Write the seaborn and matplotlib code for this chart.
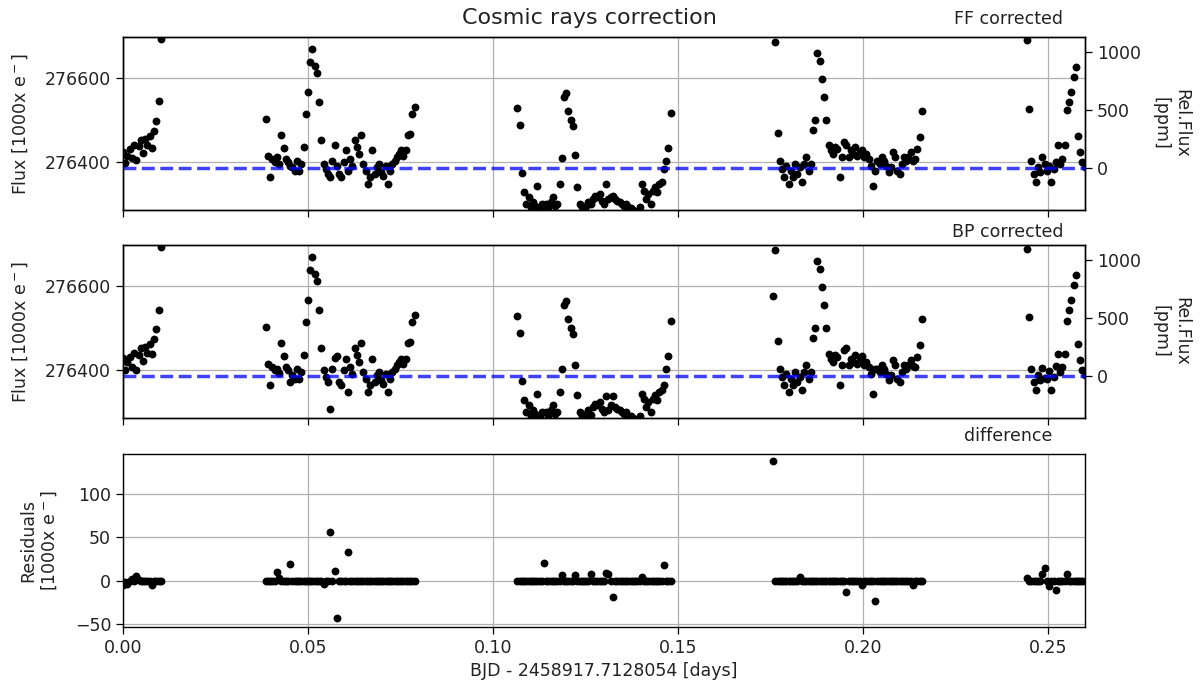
import numpy as np
import pandas as pd
import matplotlib
matplotlib.use("Agg")
import matplotlib.pyplot as plt
from matplotlib.ticker import FormatStrFormatter
import seaborn as sns

# ---------------- data ----------------
MEDIAN_FLUX = 276385.7          # level of the dashed line [1000 e-]
FLUX_LIM = (276286.0, 276699.0)
RES_LIM = (-53.4, 145.6)
X_LIM = (0.0, 0.26)

time_seg1 = [0.0000, 0.0006, 0.0012, 0.0018, 0.0024, 0.0030, 0.0036, 0.0042, 0.0048,
             0.0054, 0.0060, 0.0066, 0.0072, 0.0078, 0.0084, 0.0090, 0.0096, 0.0102]
ff_seg1 = [276425, 276398, 276415, 276432, 276410, 276440, 276405, 276438, 276452,
           276422, 276455, 276440, 276462, 276433, 276475, 276498, 276545, 276695]
res_seg1 = [-5, -2, -4, 0, 2, -1, 5, 1, 0, 0, 0, -1, 0, -5, 0, 0, 0, 0]

time_seg2 = [0.0386, 0.0392, 0.0398, 0.0404, 0.0410, 0.0416, 0.0422, 0.0428, 0.0434, 0.0440,
             0.0446, 0.0452, 0.0458, 0.0464, 0.0470, 0.0476, 0.0482, 0.0488, 0.0494, 0.0500,
             0.0506, 0.0512, 0.0518, 0.0524, 0.0530, 0.0536, 0.0542, 0.0548, 0.0554, 0.0560,
             0.0566, 0.0572, 0.0578, 0.0584, 0.0590, 0.0596, 0.0602, 0.0608, 0.0614, 0.0620,
             0.0626, 0.0632, 0.0638, 0.0644, 0.0650, 0.0656, 0.0662, 0.0668, 0.0674, 0.0680,
             0.0686, 0.0692, 0.0698, 0.0704, 0.0710, 0.0716, 0.0722, 0.0728, 0.0734, 0.0740,
             0.0746, 0.0752, 0.0758, 0.0764, 0.0770, 0.0776, 0.0782, 0.0788]
ff_seg2 = [276504, 276414, 276364, 276408, 276400, 276412, 276396, 276464, 276434, 276408,
           276400, 276392, 276388, 276378, 276402, 276380, 276396, 276436, 276516, 276568,
           276640, 276670, 276630, 276612, 276544, 276452, 276396, 276384, 276372, 276364,
           276404, 276440, 276392, 276372, 276364, 276400, 276428, 276380, 276408, 276392,
           276452, 276436, 276420, 276464, 276396, 276380, 276348, 276364, 276428, 276372,
           276388, 276396, 276376, 276368, 276392, 276348, 276380, 276396, 276404, 276412,
           276420, 276428, 276416, 276428, 276464, 276468, 276516, 276532]
res_seg2 = [0, 0, 0, 0, 0, 10, 3, 0, 0, 0,
            0, 19, 0, 0, 0, 0, 0, 0, 0, 0,
            0, 0, 0, 0, 0, 0, -4, 0, 0, 56,
            0, 11, -43, 0, 0, 0, 0, 33, 0, 0,
            0, 0, 0, 0, 0, 0, 0, 0, 0, 0,
            0, 0, 0, 0, 0, 0, 0, 0, 0, 0,
            0, 0, 0, 0, 0, 0, 0, 0]

time_seg3 = [0.1066, 0.1072, 0.1078, 0.1084, 0.1090, 0.1096, 0.1102, 0.1108, 0.1114, 0.1120,
             0.1126, 0.1132, 0.1138, 0.1144, 0.1150, 0.1156, 0.1162, 0.1168, 0.1174, 0.1180,
             0.1186, 0.1192, 0.1198, 0.1204, 0.1210, 0.1216, 0.1222, 0.1228, 0.1234, 0.1240,
             0.1246, 0.1252, 0.1258, 0.1264, 0.1270, 0.1276, 0.1282, 0.1288, 0.1294, 0.1300,
             0.1306, 0.1312, 0.1318, 0.1324, 0.1330, 0.1336, 0.1342, 0.1348, 0.1354, 0.1360,
             0.1366, 0.1372, 0.1378, 0.1384, 0.1390, 0.1396, 0.1402, 0.1408, 0.1414, 0.1420,
             0.1426, 0.1432, 0.1438, 0.1444, 0.1450, 0.1456, 0.1462, 0.1468, 0.1474, 0.1480]
ff_seg3 = [276530, 276490, 276374, 276328, 276300, 276316, 276292, 276305, 276296, 276344,
           276292, 276300, 276290, 276300, 276292, 276306, 276318, 276296, 276300, 276348,
           276410, 276556, 276566, 276522, 276500, 276486, 276418, 276340, 276300, 276292,
           276288, 276296, 276306, 276300, 276312, 276320, 276316, 276324, 276308, 276300,
           276348, 276312, 276316, 276320, 276312, 276308, 276304, 276300, 276296, 276300,
           276292, 276290, 276286, 276282, 276280, 276292, 276348, 276332, 276312, 276324,
           276300, 276332, 276340, 276328, 276348, 276352, 276384, 276404, 276434, 276518]
res_seg3 = [0, 0, 0, 0, 0, 0, 0, 0, 0, 0,
            0, 0, 20, 0, 0, 0, 0, 0, 0, 0,
            6, 0, 0, 0, 0, 0, 6, 0, 0, 0,
            0, 0, 0, 7, 0, 0, 0, 0, 0, 0,
            9, 7, 0, -19, 0, 0, 0, 0, 0, 0,
            0, 0, 0, 0, 0, 0, 4, 0, 0, 0,
            0, 0, 0, 0, 0, 0, 18, 0, 0, 0]

time_seg4 = [0.1757, 0.1763, 0.1769, 0.1775, 0.1781, 0.1787, 0.1793, 0.1799, 0.1805, 0.1811,
             0.1817, 0.1823, 0.1829, 0.1835, 0.1841, 0.1847, 0.1853, 0.1859, 0.1865, 0.1871,
             0.1877, 0.1883, 0.1889, 0.1895, 0.1901, 0.1907, 0.1913, 0.1919, 0.1925, 0.1931,
             0.1937, 0.1943, 0.1949, 0.1955, 0.1961, 0.1967, 0.1973, 0.1979, 0.1985, 0.1991,
             0.1997, 0.2003, 0.2009, 0.2015, 0.2021, 0.2027, 0.2033, 0.2039, 0.2045, 0.2051,
             0.2057, 0.2063, 0.2069, 0.2075, 0.2081, 0.2087, 0.2093, 0.2099, 0.2105, 0.2111,
             0.2117, 0.2123, 0.2129, 0.2135, 0.2141, 0.2147, 0.2153, 0.2159]
ff_seg4 = [276716, 276686, 276470, 276404, 276384, 276364, 276392, 276348, 276380, 276364,
           276396, 276372, 276388, 276352, 276396, 276412, 276380, 276396, 276478, 276500,
           276660, 276642, 276598, 276556, 276500, 276440, 276428, 276420, 276436, 276432,
           276364, 276412, 276448, 276440, 276412, 276428, 276420, 276436, 276416, 276424,
           276428, 276412, 276420, 276408, 276392, 276344, 276380, 276404, 276396, 276412,
           276404, 276392, 276376, 276388, 276424, 276412, 276380, 276372, 276396, 276412,
           276404, 276412, 276424, 276404, 276408, 276432, 276460, 276522]
res_seg4 = [138, 0, 0, 0, 0, 0, 0, 0, 0, 0,
            0, 0, 4, 0, 0, 0, 0, 0, 0, 0,
            0, 0, 0, 0, 0, 0, 0, 0, 0, 0,
            0, 0, 0, -13, 0, 0, 0, 0, 0, 0,
            -5, 0, 0, 0, 0, 0, -24, 0, 0, 0,
            0, 0, 0, 0, 0, 0, 0, 0, 0, 0,
            0, 0, 0, -5, 0, 0, 0, 0]

time_seg5 = [0.2443, 0.2449, 0.2455, 0.2461, 0.2467, 0.2473, 0.2479, 0.2485, 0.2491, 0.2497,
             0.2503, 0.2509, 0.2515, 0.2521, 0.2527, 0.2533, 0.2539, 0.2545, 0.2551, 0.2557,
             0.2563, 0.2569, 0.2575, 0.2581, 0.2587, 0.2593, 0.2599]
ff_seg5 = [276692, 276526, 276404, 276372, 276352, 276388, 276376, 276412, 276396, 276380,
           276392, 276352, 276384, 276400, 276440, 276396, 276408, 276440, 276524, 276544,
           276568, 276604, 276628, 276462, 276424, 276400, 276388]
res_seg5 = [3, 0, 0, 0, 0, 0, 0, 7, 15, 0,
            -6, 0, 0, -11, 0, 0, 0, 0, 7, 0,
            0, 0, 0, 0, 0, 0, 0]

x_ticks = [0.00, 0.05, 0.10, 0.15, 0.20, 0.25]
flux_ticks = [276400, 276600]
res_ticks = [-50, 0, 50, 100]
ppm_ticks = [0, 500, 1000]

title = "Cosmic rays correction"
panel_titles = ["FF corrected", "BP corrected", "difference"]
xlabel = "BJD - 2458917.7128054 [days]"
flux_label = r"Flux [1000x $e^-$]"
res_label = "Residuals\n" + r"[1000x $e^-$]"
rel_label = "Rel.Flux\n[ppm]"

# ---------------- table ----------------
time = np.concatenate([time_seg1, time_seg2, time_seg3, time_seg4, time_seg5])
ff = np.concatenate([ff_seg1, ff_seg2, ff_seg3, ff_seg4, ff_seg5]).astype(float)
res = np.concatenate([res_seg1, res_seg2, res_seg3, res_seg4, res_seg5]).astype(float)
df = pd.DataFrame({"time": time, "ff": ff, "res": res})
df["bp"] = df["ff"] - df["res"]

# ---------------- style ----------------
sns.set_style("ticks")
plt.rcParams["font.family"] = ["DejaVu Sans"]
plt.rcParams["font.size"] = 12.5
plt.rcParams["mathtext.default"] = "regular"
plt.rcParams["axes.edgecolor"] = "black"
plt.rcParams["text.color"] = "#222222"
plt.rcParams["axes.labelcolor"] = "#222222"
plt.rcParams["xtick.color"] = "black"
plt.rcParams["ytick.color"] = "black"
plt.rcParams["xtick.labelcolor"] = "#222222"
plt.rcParams["ytick.labelcolor"] = "#222222"

fig = plt.figure(figsize=(12.01, 6.88), dpi=100)
W = 0.8010
ax1 = fig.add_axes([0.1024, 0.6948, W, 0.2515])
ax2 = fig.add_axes([0.1024, 0.3924, W, 0.2515])
ax3 = fig.add_axes([0.1024, 0.0887, W, 0.2515])

for ax, col in [(ax1, "ff"), (ax2, "bp"), (ax3, "res")]:
    sns.scatterplot(data=df, x="time", y=col, ax=ax, color="black", s=32,
                    linewidth=0, legend=False, zorder=3)
    ax.set_xlim(*X_LIM)
    ax.set_xticks(x_ticks)
    ax.grid(True, color="#b0b0b0", lw=0.9)
    ax.set_axisbelow(True)
    ax.tick_params(labelsize=12.5, length=5, width=0.9)
    for sp in ax.spines.values():
        sp.set_linewidth(1.0)
        sp.set_color("black")
    ax.set_xlabel("")

for ax in (ax1, ax2):
    ax.axhline(MEDIAN_FLUX, color="blue", ls="--", lw=2.5, alpha=0.75, zorder=4)
    ax.set_ylim(*FLUX_LIM)
    ax.set_yticks(flux_ticks)
    ax.yaxis.set_major_formatter(FormatStrFormatter("%d"))
    ax.set_ylabel(flux_label, fontsize=12.5, labelpad=11)
    ax.tick_params(axis="x", labelbottom=False)
    axr = ax.twinx()
    lo, hi = FLUX_LIM
    axr.set_ylim((lo / MEDIAN_FLUX - 1) * 1e6, (hi / MEDIAN_FLUX - 1) * 1e6)
    axr.set_yticks(ppm_ticks)
    axr.tick_params(labelsize=12.5, length=5, width=0.9)
    axr.set_ylabel(rel_label, rotation=270, va="bottom", labelpad=8, fontsize=12.5)
    axr.grid(False)
    for sp in axr.spines.values():
        sp.set_linewidth(1.0)
        sp.set_color("black")

ax3.set_ylim(*RES_LIM)
ax3.set_yticks(res_ticks)
ax3.set_ylabel(res_label, fontsize=12.5, labelpad=11)
ax3.set_xlabel(xlabel, fontsize=12.5)

fig.text(589 / 1201, 1 - 18 / 688, title, ha="center", va="center", fontsize=16)
for txt, ypx in zip(panel_titles, [19, 232, 436]):
    fig.text(1008 / 1201, 1 - ypx / 688, txt, ha="center", va="center", fontsize=12.5)

fig.savefig("out.png", dpi=100)
